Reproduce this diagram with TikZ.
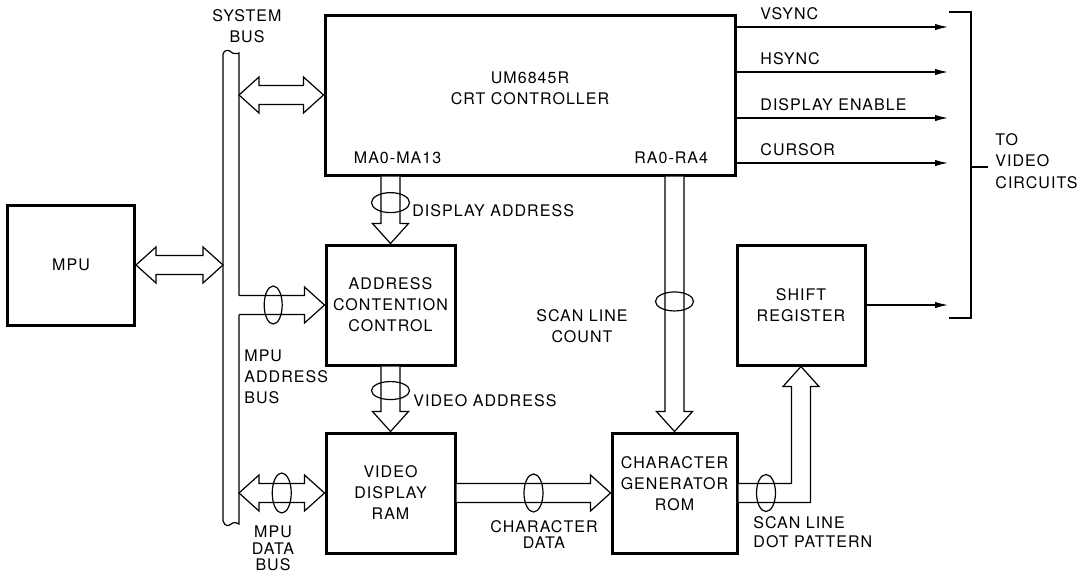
\documentclass[tikz,border=0pt]{standalone}
\usepackage{fontspec}
\setmainfont{TeX Gyre Heros}[LetterSpace=6.5]
\usepackage{tikz}
\usetikzlibrary{positioning,calc,arrows.meta}
\tikzset{%
  block/.style={
    draw,
    line width=1.5pt,
    align=center,
    inner sep=0pt,
    font=\fontsize{8}{10.5}\selectfont
  },
  lbl/.style={
    inner sep=0pt,
    align=center,
    font=\fontsize{8}{10.5}\selectfont
  },
  fat/.style={draw, fill=white, line width=0.6pt, line join=miter},
  sig/.style={line width=0.6pt, -{Latex[length=6.5pt,width=3.2pt]}},
  thinline/.style={line width=0.6pt},
}
\newcommand{\fatarrow}[2]{%
  \coordinate (fa-c) at ($(#2)!10pt!(#1)$);
  \draw[fat] ($(#1)!4.75pt!90:(#2)$) -- ($(fa-c)!4.75pt!90:(#2)$) -- ($(fa-c)!9pt!90:(#2)$) -- (#2)
    -- ($(fa-c)!9pt!-90:(#2)$) -- ($(fa-c)!4.75pt!-90:(#2)$) -- ($(#1)!4.75pt!-90:(#2)$);
}
\newcommand{\fatdarrow}[2]{%
  \coordinate (fa-c) at ($(#2)!10pt!(#1)$);
  \coordinate (fa-d) at ($(#1)!10pt!(#2)$);
  \draw[fat] ($(fa-d)!4.75pt!90:(#2)$) -- ($(fa-c)!4.75pt!90:(#2)$) -- ($(fa-c)!9pt!90:(#2)$) -- (#2)
    -- ($(fa-c)!9pt!-90:(#2)$) -- ($(fa-c)!4.75pt!-90:(#2)$) -- ($(fa-d)!4.75pt!-90:(#2)$)
    -- ($(fa-d)!9pt!-90:(#2)$) -- (#1) -- ($(fa-d)!9pt!90:(#2)$) -- cycle;
}

\begin{document}
\begin{tikzpicture}[x=0.5pt, y=-0.5pt]
\useasboundingbox (0,0) rectangle (1092,573);

    \node[block, minimum width=63.5pt, minimum height=60pt] (mpu) at (71,265) {MPU};
    \node[block, minimum width=205pt, minimum height=80pt] (crt) at (530,95) {};
    \node[block, minimum width=64.5pt, minimum height=60pt] (acc) at (390.5,305) {ADDRESS\\CONTENTION\\CONTROL};
    \node[block, minimum width=64.5pt, minimum height=60pt] (vdr) at (390.5,493) {VIDEO\\DISPLAY\\RAM};
    \node[block, minimum width=62.5pt, minimum height=60pt] (cgr) at (674.5,493) {};
    \node[block, minimum width=64pt, minimum height=60pt] (shift) at (801,305) {SHIFT\\REGISTER};

    \node[lbl, yshift=3.25pt] (crtname) at (crt) {UM6845R\\CRT CONTROLLER};
    \node[lbl, yshift=4.5pt] (cgrname) at (cgr) {CHARACTER\\GENERATOR\\ROM};
    \node[lbl, above right=6pt and 15pt of crt.south west] (ma) {MA0-MA13};
    \node[lbl, above left=6pt and 14pt of crt.south east] (ra) {RA0-RA4};

   % system bus
   \coordinate (busL) at (223,54);
   \coordinate (busR) at (239,53);
   \coordinate (b1) at (mpu.east -| busL);
   \coordinate (b2) at (crt.west -| busR);
   \coordinate (b3) at (acc.west -| busR);
   \coordinate (b4) at (vdr.west -| busR);
   \draw[thinline] (223,521) -- (busL) .. controls (224,49) and (230,50) .. (231,52) .. controls (233,54) and (237,54) .. (busR) -- ($(b3)+(0,-9.5)$);
   \draw[thinline] ($(b3)+(0,9.5)$) -- (239,524) .. controls (237,522) and (234,522) .. (231,524) .. controls (229,526) and (225,527) .. (223,521);
    \node[lbl] (sysbus) at (247,26.5) {SYSTEM\\BUS};
    \node[lbl, anchor=west, align=left] (mpuab) at (244,376.5) {MPU\\ADDRESS\\BUS};
    \node[lbl, font=\fontsize{8}{8.25}\selectfont] (mpudb) at (273,548.5) {MPU\\DATA\\BUS};

   \fatdarrow{mpu.east}{b1}
   \fatdarrow{b2}{crt.west}
   \fatarrow{b3}{acc.west}
   \fatdarrow{b4}{vdr.west}
   \coordinate (d1) at (crt.south -| acc.north);
   \fatarrow{d1}{acc.north}
   \fatarrow{acc.south}{vdr.north}
   \coordinate (s1) at (crt.south -| cgr.north);
   \fatarrow{s1}{cgr.north}
   \fatarrow{vdr.east}{cgr.west}
   \coordinate (elb) at (cgr.east -| shift.south);
   \draw[fat] ($(cgr.east)+(0,-9.5)$) -- ($(elb)+(-9.5,-9.5)$) -- ($(shift.south)+(-9.5,20)$) -- ($(shift.south)+(-18,20)$) -- (shift.south)
     -- ($(shift.south)+(18,20)$) -- ($(shift.south)+(9.5,20)$) -- ($(elb)+(9.5,9.5)$) -- ($(cgr.east)+(0,9.5)$);

   \draw[thinline] ($(b3)!0.4!(acc.west)$) ellipse [x radius=4.5pt, y radius=9.5pt];
   \draw[thinline] ($(b4)!0.5!(vdr.west)$) ellipse [x radius=4.75pt, y radius=10pt];
   \draw[thinline] ($(vdr.east)!0.5!(cgr.west)$) ellipse [x radius=4.75pt, y radius=9.5pt];
   \draw[thinline] ($(cgr.east)!0.44!(elb)$) ellipse [x radius=4.75pt, y radius=9.25pt];
   \draw[thinline] ($(d1)!0.39!(acc.north)$) ellipse [x radius=9.5pt, y radius=5pt];
   \draw[thinline] ($(acc.south)!0.37!(vdr.north)$) ellipse [x radius=9.5pt, y radius=4.5pt];
   \draw[thinline] ($(s1)!0.49!(cgr.north)$) ellipse [x radius=9.5pt, y radius=4.75pt];

    \node[lbl, anchor=west] (dispaddr) at (412,211) {DISPLAY ADDRESS};
    \node[lbl, anchor=west] (vidaddr) at (413,401) {VIDEO ADDRESS};
    \node[lbl] (scancount) at (582,326.5) {SCAN LINE\\COUNT};
    \node[lbl, font=\fontsize{8}{7.75}\selectfont] (chardata) at (544,534.5) {CHARACTER\\DATA};
    \node[lbl, anchor=west, align=left, font=\fontsize{8}{9.5}\selectfont] (dotpat) at (753,532.5) {SCAN LINE\\DOT PATTERN};

    \foreach \y/\t [count=\i] in {27/VSYNC, 72/HSYNC, 118/DISPLAY ENABLE, 163/CURSOR} {
        \coordinate (out\i) at (948,\y);
        \draw[sig] (crt.east |- out\i) -- (out\i);
        \node[lbl, anchor=west] (sig\i) at (760,\y-13) {\t};
    }
   \draw[sig] (shift.east) -- (shift.east -| out1);

   \coordinate (brt) at (949,12);
   \coordinate (brb) at (949,318);
   \draw[thinline] (brt) -- (971,12) -- (971,318) -- (brb);
   \draw[thinline] (971,167) -- (988,167);
    \node[lbl, anchor=west, align=left, font=\fontsize{8}{10.75}\selectfont] (tovid) at (995,161) {TO\\VIDEO\\CIRCUITS};
\end{tikzpicture}
\end{document}
